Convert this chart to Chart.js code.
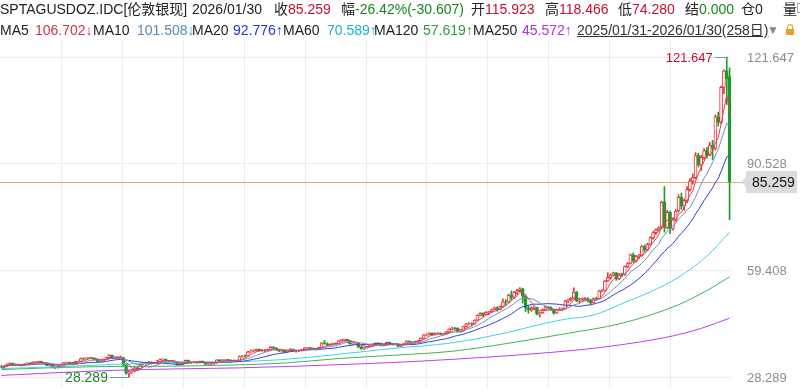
<!DOCTYPE html>
<html><head><meta charset="utf-8">
<script src="https://cdn.jsdelivr.net/npm/chart.js@4.4.1/dist/chart.umd.min.js"></script>
<style>
html,body{margin:0;padding:0;background:#fff;width:800px;height:392px;overflow:hidden;}
#wrap{position:relative;width:800px;height:392px;}
canvas{position:absolute;left:0;top:0;}
.t{position:absolute;font-family:"Liberation Sans","Noto Sans CJK SC",sans-serif;font-size:14px;line-height:18px;white-space:nowrap;color:#222;}
.r{color:#c8102e}.g{color:#16881a}
</style></head><body><div id="wrap"><canvas id="c" width="800" height="392"></canvas>
<span class="t" style="left:0;top:0">SPTAGUSDOZ.IDC[伦敦银现]</span>
<span class="t" style="left:192px;top:0">2026/01/30</span>
<span class="t" style="left:274px;top:0">收<span class="r">85.259</span></span>
<span class="t" style="left:341px;top:0">幅<span class="g">-26.42%(-30.607)</span></span>
<span class="t" style="left:471px;top:0">开<span class="r">115.923</span></span>
<span class="t" style="left:545px;top:0">高<span class="r">118.466</span></span>
<span class="t" style="left:618px;top:0">低<span class="r">74.280</span></span>
<span class="t" style="left:685px;top:0">结<span class="g">0.000</span></span>
<span class="t" style="left:741px;top:0">仓0</span>
<span class="t" style="left:783px;top:0">量</span>
<span style="position:absolute;left:797px;top:3px;width:8px;height:10px;border:1px solid #aaa;box-sizing:border-box"></span>
<span class="t" style="left:0;top:21px">MA5</span><span class="t" style="left:35px;top:21px;color:#d1344b">106.702↓</span>
<span class="t" style="left:93px;top:21px">MA10</span><span class="t" style="left:137px;top:21px;color:#5a8ab5">101.508↓</span>
<span class="t" style="left:192px;top:21px">MA20</span><span class="t" style="left:233px;top:21px;color:#1f35d8">92.776↑</span>
<span class="t" style="left:283px;top:21px">MA60</span><span class="t" style="left:327px;top:21px;color:#19b5cc">70.589↑</span>
<span class="t" style="left:374px;top:21px">MA120</span><span class="t" style="left:423px;top:21px;color:#2f9a3a">57.619↑</span>
<span class="t" style="left:473px;top:21px">MA250</span><span class="t" style="left:522px;top:21px;color:#b02fe0">45.572↑</span>
<span class="t" style="left:577px;top:21px;text-decoration:underline;color:#333">2025/01/31-2026/01/30(258日)</span>
<span class="t" style="left:767px;top:21px;color:#888;font-size:12px">▼</span>
<span style="position:absolute;left:786px;top:29px;width:8px;height:6px;background:#f0a020"></span>
<span style="position:absolute;left:787px;top:24px;width:4px;height:5px;border:1.5px solid #f0a020;border-bottom:none;border-radius:3px 3px 0 0"></span>
</div>
<script>
const opens=[31.4,31.3,31.6,32.2,32.4,31.9,32.0,31.9,31.8,32.2,
32.5,32.2,32.8,32.9,33.0,32.4,32.5,31.8,31.9,31.2,
31.1,31.7,32.1,32.6,32.7,32.5,32.4,32.9,33.0,33.8,
33.7,34.0,34.1,33.8,33.5,33.0,33.1,33.6,34.1,34.8,
34.1,34.2,34.0,34.1,32.0,29.5,29.9,30.1,31.1,30.8,
32.2,32.3,32.4,32.8,32.4,32.5,32.8,33.5,33.6,33.2,
33.0,33.1,32.6,32.0,32.1,32.6,33.3,32.6,32.7,32.8,
32.6,33.0,32.6,32.2,32.3,32.4,32.5,33.4,33.1,33.4,
33.5,33.2,33.0,33.3,33.0,34.4,34.6,34.5,35.8,36.0,
36.1,36.5,36.1,36.2,36.3,36.4,37.1,36.9,36.3,36.0,
36.1,35.8,36.0,36.5,36.0,36.1,36.2,36.4,36.9,37.0,
36.7,36.6,36.5,37.0,38.4,38.2,37.7,37.9,38.2,38.1,
39.0,39.3,39.4,39.0,38.1,38.2,38.3,37.2,36.7,37.0,
37.3,37.7,37.8,38.3,38.2,37.6,37.8,38.5,38.0,37.9,
38.1,37.4,37.8,38.2,38.9,38.6,38.7,38.6,39.0,39.7,
40.7,40.8,41.2,40.7,41.1,41.2,40.9,41.0,41.6,42.4,
42.7,42.6,41.7,41.8,43.1,43.9,44.0,43.9,45.0,46.4,
47.0,46.6,47.3,47.4,48.0,48.6,48.1,48.9,50.3,50.2,
52.3,51.6,53.2,53.6,54.1,52.0,48.6,48.0,48.5,48.7,
46.8,47.1,48.0,48.8,48.6,48.0,47.0,48.0,48.2,48.3,
50.6,50.9,51.4,53.2,50.6,50.7,51.0,51.3,50.6,50.0,
51.3,51.2,53.5,53.6,56.4,57.4,58.1,58.8,57.0,58.4,
58.2,60.6,61.5,64.0,62.2,63.6,63.8,66.4,65.5,67.1,
69.0,70.5,71.3,72.0,79.4,72.0,76.4,71.6,74.2,76.8,
80.8,78.2,79.8,83.0,85.5,86.5,92.9,90.2,92.4,94.4,
93.2,96.0,95.0,104.2,102.6,112.8,117.6,115.923];
const highs=[31.9,31.8,32.3,32.6,32.5,32.3,32.2,32.1,32.3,32.6,
32.6,32.9,33.0,33.1,33.1,32.6,32.6,32.1,32.0,31.4,
31.8,32.2,32.7,32.8,32.8,32.7,33.0,33.1,34.0,34.0,
34.1,34.2,34.2,34.0,33.6,33.3,33.7,34.2,35.0,34.9,
34.4,34.3,34.6,34.2,32.2,30.4,30.6,31.4,31.3,32.3,
32.6,32.6,33.0,32.9,32.8,33.3,33.7,33.8,33.7,33.3,
33.3,33.2,32.7,32.3,32.7,33.4,33.4,32.9,32.9,32.9,
33.1,33.1,32.7,32.5,32.5,32.6,33.5,33.5,33.5,33.6,
33.6,33.4,33.4,33.4,34.6,34.7,34.8,35.9,36.3,36.4,
36.6,36.6,36.4,36.5,36.6,37.3,37.3,37.0,36.5,36.3,
36.2,36.1,36.8,36.6,36.2,36.3,36.5,37.0,37.1,37.1,
36.9,36.8,37.1,38.5,39.1,38.4,38.1,38.3,38.4,39.1,
39.4,39.5,39.5,39.1,38.4,38.4,38.4,37.4,37.1,37.4,
37.8,38.0,38.4,38.5,38.3,37.9,38.6,38.6,38.2,38.2,
38.2,37.9,38.3,39.0,39.0,38.8,38.9,39.1,39.8,40.8,
41.0,41.4,41.3,41.3,41.4,41.3,41.2,41.7,42.5,42.9,
42.9,42.8,42.0,43.2,44.0,44.3,44.2,45.1,46.5,47.2,
47.1,47.5,47.6,48.2,48.8,48.9,49.2,51.2,51.0,52.6,
53.5,53.4,53.9,54.5,54.3,52.4,49.3,48.9,49.0,48.8,
47.4,48.3,49.2,49.0,48.9,48.2,48.2,48.6,48.6,50.8,
51.1,51.6,54.4,53.4,51.2,51.3,51.6,51.5,50.9,51.5,
51.7,53.7,53.9,56.6,58.8,58.4,59.0,58.9,58.6,58.7,
60.8,61.8,64.3,64.6,63.9,64.2,66.7,66.9,67.4,69.3,
70.8,71.6,72.2,79.7,83.9,77.0,76.8,74.8,77.2,81.5,
82.0,80.3,83.9,86.2,87.6,93.8,93.6,93.0,95.0,95.3,
96.8,97.4,104.8,105.6,113.2,117.9,121.647,118.466];
const lows=[31.1,31.1,31.5,32.0,31.7,31.7,31.7,31.6,31.7,32.0,
32.0,32.1,32.6,32.6,32.3,32.2,31.7,31.6,31.1,30.9,
31.0,31.6,32.0,32.4,32.3,32.2,32.3,32.7,32.9,33.5,
33.6,33.8,33.6,33.4,32.9,32.8,33.0,33.5,34.0,33.9,
33.8,33.8,33.8,31.7,29.2,28.289,29.5,29.9,30.3,30.7,
32.0,32.1,32.3,32.2,32.3,32.4,32.7,33.2,33.0,32.8,
32.8,32.5,31.9,31.8,32.0,32.5,32.5,32.4,32.5,32.4,
32.5,32.5,32.0,32.1,32.0,32.2,32.4,32.9,33.0,33.2,
33.1,32.9,32.9,32.9,33.0,34.2,34.3,34.4,35.6,35.8,
35.9,35.9,35.9,35.8,36.1,36.3,36.6,36.1,35.8,35.7,
35.5,35.7,35.9,35.8,35.7,35.8,36.0,36.3,36.7,36.5,
36.5,36.3,36.4,36.9,38.0,37.5,37.5,37.7,37.9,38.0,
38.8,39.0,38.9,38.0,37.9,37.9,37.0,36.5,36.5,36.8,
37.2,37.5,37.7,38.0,37.4,37.4,37.7,37.8,37.7,37.8,
37.2,37.3,37.7,38.0,38.5,38.4,38.4,38.5,38.9,39.6,
40.4,40.6,40.5,40.6,40.9,40.7,40.7,40.9,41.5,42.2,
42.3,41.5,41.4,41.7,43.0,43.6,43.4,43.8,44.9,46.2,
46.0,46.5,46.6,47.2,47.9,47.6,48.0,48.8,49.4,50.0,
50.8,51.3,52.5,53.2,50.0,47.5,47.0,47.6,48.0,46.5,
45.9,46.9,47.8,48.2,47.8,46.7,46.9,47.8,47.9,48.2,
50.1,50.6,51.2,50.3,50.0,50.4,50.7,50.3,49.6,49.9,
50.8,51.1,53.2,53.5,56.2,56.9,57.8,56.6,56.8,57.6,
58.0,60.3,61.3,61.8,61.9,62.8,63.6,64.8,65.2,66.9,
68.6,70.0,70.9,71.6,70.6,71.6,70.2,71.2,73.8,76.5,
77.3,77.0,79.2,82.6,84.6,86.2,89.6,88.6,91.8,92.2,
92.9,91.8,94.6,101.5,102.2,111.0,107.8,74.28];
const closes=[31.3,31.6,32.2,32.4,31.9,32.0,31.9,31.8,32.2,32.5,
32.2,32.8,32.9,33.0,32.4,32.5,31.8,31.9,31.2,31.1,
31.7,32.1,32.6,32.7,32.5,32.4,32.9,33.0,33.8,33.7,
34.0,34.1,33.8,33.5,33.0,33.1,33.6,34.1,34.8,34.1,
34.2,34.0,34.1,32.0,29.6,29.9,30.1,31.1,30.8,32.2,
32.3,32.4,32.8,32.4,32.5,32.8,33.5,33.6,33.2,33.0,
33.1,32.6,32.0,32.1,32.6,33.3,32.6,32.7,32.8,32.6,
33.0,32.6,32.2,32.3,32.4,32.5,33.4,33.1,33.4,33.5,
33.2,33.0,33.3,33.0,34.4,34.6,34.5,35.8,36.0,36.1,
36.5,36.1,36.2,36.3,36.4,37.1,36.9,36.3,36.0,36.1,
35.8,36.0,36.5,36.0,36.1,36.2,36.4,36.9,37.0,36.7,
36.6,36.5,37.0,38.4,38.2,37.7,37.9,38.2,38.1,39.0,
39.3,39.4,39.0,38.1,38.2,38.3,37.2,36.7,37.0,37.3,
37.7,37.8,38.3,38.2,37.6,37.8,38.5,38.0,37.9,38.1,
37.4,37.8,38.2,38.9,38.6,38.7,38.6,39.0,39.7,40.7,
40.8,41.2,40.7,41.1,41.2,40.9,41.0,41.6,42.4,42.7,
42.6,41.7,41.8,43.1,43.9,44.0,43.9,45.0,46.4,47.0,
46.6,47.3,47.4,48.0,48.6,48.1,48.9,50.3,50.2,52.3,
51.6,53.2,53.6,54.1,51.9,48.6,48.0,48.5,48.7,46.8,
47.1,48.0,48.8,48.6,48.0,47.0,48.0,48.2,48.3,50.6,
50.9,51.4,53.2,50.6,50.7,51.0,51.3,50.6,50.0,51.3,
51.2,53.5,53.6,56.4,57.4,58.1,58.8,57.0,58.4,58.2,
60.6,61.5,64.0,62.2,63.6,63.8,66.4,65.5,67.1,69.0,
70.5,71.3,71.9,79.3,72.0,76.4,71.6,74.2,76.8,80.8,
78.2,79.8,83.0,85.5,86.5,92.9,90.2,92.4,94.4,93.2,
96.0,95.0,104.2,102.6,112.8,117.6,115.3,85.259];

// long moving averages (candle index -> value)
const ma60Idx=[0,20,40,59,79,99,119,139,159,179,189,199,209,219,229,239,249,257];
const ma60Val=[30.9,31.4,32.1,32.56,32.78,33.49,35.06,36.82,38.38,41.48,43.55,45.27,46.47,49.81,53.21,57.50,63.68,70.589];
const ma120Idx=[0,20,40,60,80,100,119,139,159,179,199,219,239,249,257];
const ma120Val=[30.6,31.2,31.5,31.6,31.9,32.5,33.81,34.80,35.93,38.27,41.04,44.09,49.49,53.62,57.619];
const ma250Idx=[0,20,41,62,84,105,128,149,171,194,214,237,247,257];
const ma250Val=[28.9,29.7,30.4,30.8,31.1,31.6,32.3,33.1,34.2,35.6,37.3,40.4,42.6,45.572];

const yTicks=[28.289,59.408,90.528,121.647];
const lastPrice=85.259;

const RED='#e8333a', GREEN='#1e9a28';
const N=closes.length;
const idx=closes.map((_,i)=>i);
const up=idx.map(i=>closes[i]>=opens[i]);
function ma(n){return idx.map(i=>{const s=Math.max(0,i-n+1);let t=0;for(let k=s;k<=i;k++)t+=closes[k];return {x:i,y:t/(i-s+1)};});}
function pts(ix,v){return ix.map((x,k)=>({x:x,y:v[k]}));}
let hiI=0,loI=0;idx.forEach(i=>{if(highs[i]>highs[hiI])hiI=i;if(lows[i]<lows[loI])loI=i;});

const FONT='"Liberation Sans","Noto Sans CJK SC",sans-serif';
const overlay={
 id:'overlay',
 beforeDatasetsDraw(chart){
  const c=chart.ctx,a=chart.chartArea,ys=chart.scales.y;
  c.save();c.strokeStyle='#ececec';c.lineWidth=1;
  for(let k=1;k<12;k++){const x=Math.round(a.left+k*(a.right-a.left)/12)+0.5;c.beginPath();c.moveTo(x,a.top);c.lineTo(x,a.bottom);c.stroke();}
  const y=Math.round(ys.getPixelForValue(lastPrice))+0.5;
  c.strokeStyle='#f5a65b';c.beginPath();c.moveTo(a.left,y);c.lineTo(744,y);c.stroke();
  c.restore();
 },
 afterDraw(chart){
  const c=chart.ctx,xs=chart.scales.x,ys=chart.scales.y;
  c.save();
  // axis tick labels
  c.font='13px '+FONT;c.fillStyle='#8c8c8c';c.textAlign='left';c.textBaseline='middle';
  yTicks.forEach(v=>c.fillText(v.toFixed(3),747,ys.getPixelForValue(v)+1));
  // last price box
  const y=ys.getPixelForValue(lastPrice);
  c.fillStyle='#dcdcdc';c.beginPath();c.moveTo(741,y);c.lineTo(746,y-5);c.lineTo(746,y-11);c.lineTo(797,y-11);c.lineTo(797,y+11);c.lineTo(746,y+11);c.lineTo(746,y+5);c.closePath();c.fill();
  c.fillStyle='#111';c.font='14px '+FONT;c.fillText(lastPrice.toFixed(3),752,y+1);
  // high label
  const xh=xs.getPixelForValue(hiI),yh=ys.getPixelForValue(highs[hiI]);
  c.strokeStyle='#5fa3b0';c.lineWidth=1;c.beginPath();c.moveTo(xh-12,Math.round(yh)+0.5);c.lineTo(xh-1,Math.round(yh)+0.5);c.lineTo(xh,yh+3);c.stroke();
  c.fillStyle='#c8102e';c.font='13px '+FONT;c.textAlign='right';c.fillText(highs[hiI].toFixed(3),xh-14,yh+1);
  // low label
  const xl=xs.getPixelForValue(loI),yl=ys.getPixelForValue(lows[loI]);
  c.strokeStyle='#6a9ab0';c.beginPath();c.moveTo(xl-19,Math.round(yl)+0.5);c.lineTo(xl-1,Math.round(yl)+0.5);c.stroke();
  c.fillStyle='#1f8a28';c.font='14px '+FONT;c.textAlign='right';c.fillText(lows[loI].toFixed(3),xl-21,yl+1);
  c.restore();
 }
};

const lineDs=(label,data,color,smooth)=>({type:'line',label,data,borderColor:color,borderWidth:1,pointRadius:0,fill:false,order:0,
  tension:smooth?0.4:0,cubicInterpolationMode:smooth?'monotone':'default'});

new Chart(document.getElementById('c'),{
 type:'bar',
 data:{datasets:[
  lineDs('MA5',ma(5),'#e0405a',false),
  lineDs('MA10',ma(10),'#7390b5',false),
  lineDs('MA20',ma(20),'#2b3fd6',false),
  lineDs('MA60',pts(ma60Idx,ma60Val),'#3fd3e6',true),
  lineDs('MA120',pts(ma120Idx,ma120Val),'#3fb35a',true),
  lineDs('MA250',pts(ma250Idx,ma250Val),'#c23cf0',true),
  {label:'body',data:idx.map(i=>({x:i,y:[opens[i],closes[i]]})),backgroundColor:idx.map(i=>up[i]?'#ffffff':GREEN),
   borderColor:idx.map(i=>up[i]?RED:GREEN),borderWidth:1,borderSkipped:false,barThickness:3,grouped:false,order:1},
  {label:'wick',data:idx.map(i=>({x:i,y:[lows[i],highs[i]]})),backgroundColor:idx.map(i=>up[i]?RED:GREEN),
   barThickness:1,grouped:false,order:2}
 ]},
 options:{
  responsive:false,animation:false,devicePixelRatio:1,
  layout:{padding:{top:40,bottom:4,left:0,right:0}},
  plugins:{legend:{display:false},tooltip:{enabled:false}},
  scales:{
   x:{type:'linear',min:-0.5,max:N-0.5,offset:false,display:false},
   y:{position:'right',min:25.23,max:126.60,
      afterBuildTicks:s=>{s.ticks=yTicks.map(v=>({value:v}));},
      afterFit:s=>{s.width=69;},
      grid:{color:'#ececec',drawTicks:false},border:{display:false},
      ticks:{display:false,padding:0}}
  }
 },
 plugins:[overlay]
});
</script>
</body></html>
